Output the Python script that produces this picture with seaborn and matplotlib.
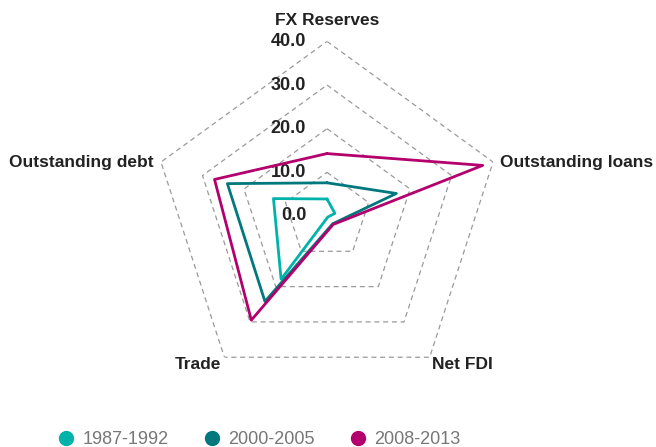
import numpy as np
import pandas as pd
import seaborn as sns
import matplotlib.pyplot as plt
from matplotlib.lines import Line2D

# radar axes, clockwise from the top
axis_labels = ["FX Reserves", "Outstanding loans", "Net FDI", "Trade", "Outstanding debt"]
periods = ["1987-1992", "2000-2005", "2008-2013"]
vals_1987 = [3.9, 1.9, 0.3, 17.9, 12.9]
vals_2000 = [7.6, 16.7, 2.2, 24.2, 24.0]
vals_2008 = [14.3, 37.5, 2.4, 29.5, 27.1]
ring_ticks = [0, 10, 20, 30, 40]
colors = ["#00b3aa", "#00787d", "#b3006d"]

sns.set_style("white")
plt.rcParams["font.family"] = ["Liberation Sans", "DejaVu Sans"]

n = len(axis_labels)
theta = np.linspace(0, 2 * np.pi, n, endpoint=False)
theta_closed = np.append(theta, 2 * np.pi)

rows = []
for period, vals in zip(periods, [vals_1987, vals_2000, vals_2008]):
    for t, v in zip(theta_closed, vals + vals[:1]):
        rows.append({"period": period, "theta": t, "value": v})
df = pd.DataFrame(rows)

fig = plt.figure(figsize=(6.56, 4.47), dpi=100)
ax = fig.add_axes([0.2323, 0.1262, 0.5324, 0.7812], projection="polar")
ax.set_theta_zero_location("N")
ax.set_theta_direction(-1)
ax.set_ylim(0, 40)
ax.spines["polar"].set_visible(False)
ax.patch.set_alpha(0)
ax.grid(False)
ax.set_xticks([])
ax.set_yticks([])

# pentagon grid
for r in ring_ticks[1:]:
    ax.plot(theta_closed, [r] * (n + 1), ls=(0, (4, 3)), color="#9a9a9a", lw=0.9, zorder=1)

for r in ring_ticks:
    ax.annotate(f"{r:.1f}", xy=(0, r), xytext=(-15, 0), textcoords="offset points",
                ha="right", va="center", fontsize=13, fontweight="bold", color="#222222")

sns.lineplot(data=df, x="theta", y="value", hue="period", palette=colors, sort=False,
             estimator=None, lw=2.0, legend=False, ax=ax, zorder=3)
ax.set_xlabel("")
ax.set_ylabel("")

offsets = [(0, 15, "center"), (5, 0, "left"), (1.5, -5, "left"), (-2, -5, "right"), (-5, 0, "right")]
for t, lab, (dx, dy, ha) in zip(theta, axis_labels, offsets):
    ax.annotate(lab, xy=(t, 40), xytext=(dx, dy), textcoords="offset points",
                ha=ha, va="center", fontsize=12.5, fontweight="bold", color="#222222",
                annotation_clip=False)

handles = [Line2D([], [], marker="o", ls="", color=c, markersize=10) for c in colors]
fig.legend(handles, periods, loc="center", bbox_to_anchor=(0.395, 0.0157), ncol=3,
           frameon=False, fontsize=13, labelcolor="#777777", handlelength=1.0,
           handletextpad=0.4, columnspacing=1.9, borderaxespad=0, borderpad=0)

fig.savefig("out.png", dpi=100)
